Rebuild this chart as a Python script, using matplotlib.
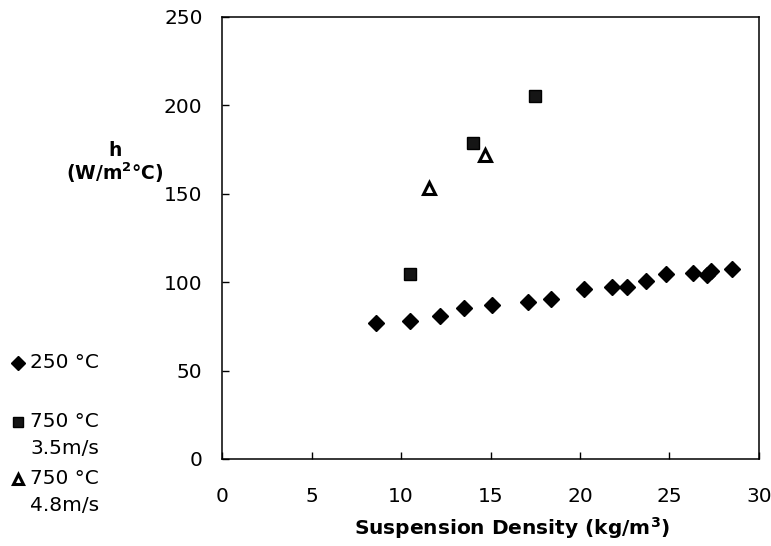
import matplotlib
matplotlib.use("Agg")
import matplotlib.pyplot as plt
from matplotlib.lines import Line2D

plt.rcParams['font.family'] = ['DejaVu Sans']

# Data
x_250 = [8.6, 10.5, 12.2, 13.5, 15.1, 17.1, 18.4, 20.2, 21.8, 22.6, 23.7, 24.8, 26.3, 27.1, 27.3, 28.5]
y_250 = [76.7, 78.2, 80.9, 85.2, 87.1, 89.0, 90.3, 96.0, 97.1, 97.5, 100.5, 104.4, 105.4, 104.0, 106.3, 107.5]
x_750a = [10.5, 14.0, 17.5]
y_750a = [104.5, 178.9, 205.5]
x_750b = [11.55, 14.7]
y_750b = [153.0, 172.0]
labels = ["250 °C", "750 °C\n3.5m/s", "750 °C\n4.8m/s"]
xticks = [0, 5, 10, 15, 20, 25, 30]
yticks = [0, 50, 100, 150, 200, 250]

fig = plt.figure(figsize=(7.71, 5.46), dpi=100)
ax = fig.add_axes([222/771, 1-459/546, (759-222)/771, (459-17)/546])

styles = [
    dict(marker='D', markersize=8.5, color='black', markerfacecolor='black', markeredgecolor='black', linestyle='none'),
    dict(marker='s', markersize=9, color='black', markerfacecolor='#151515', markeredgecolor='black', linestyle='none'),
    dict(marker='^', markersize=9, color='black', markerfacecolor='white', markeredgecolor='black', markeredgewidth=2.2, linestyle='none'),
]
ax.plot(x_250, y_250, **styles[0])
ax.plot(x_750a, y_750a, **styles[1])
ax.plot(x_750b, y_750b, **styles[2])

ax.set_xlim(0, 30)
ax.set_ylim(0, 250)
ax.set_xticks(xticks)
ax.set_yticks(yticks)
ax.tick_params(axis='x', direction='in', length=5, width=1, pad=20, labelsize=14.5)
ax.tick_params(axis='y', direction='in', length=5, width=1, pad=14, labelsize=14.5)
for s in ax.spines.values():
    s.set_linewidth(1.1)

fig.text(512/771, 1-528/546, "Suspension Density (kg/m$^\\mathbf{3}$)", ha='center', va='center',
         fontsize=14.5, fontweight='bold')
fig.text(115/771, 1-150/546, "h", ha='center', va='center', fontsize=13.5, fontweight='bold')
fig.text(115/771, 1-173/546, "(W/m$^\\mathbf{2}$°C)", ha='center', va='center', fontsize=13.5, fontweight='bold')

# Legend (manual, left bottom)
ys = [363, 422, 479]
for lab, st, yy in zip(labels, styles, ys):
    st2 = dict(st)
    st2['markersize'] = st['markersize'] * 0.8
    fig.add_artist(Line2D([18/771], [1-yy/546], transform=fig.transFigure, **st2))
    fig.text(30/771, 1-(yy-10)/546, lab, ha='left', va='top', fontsize=14.5, linespacing=1.55)

fig.savefig("out.png", dpi=100)
